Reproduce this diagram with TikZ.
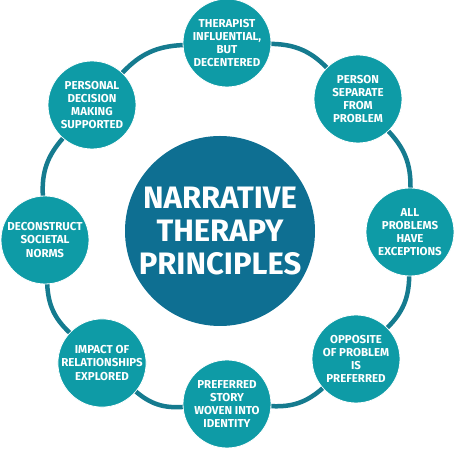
\documentclass[tikz,border=0pt]{standalone}
\usepackage{fontspec}
\setmainfont{Fira Sans}
\definecolor{teal1}{HTML}{0E9BA6}
\definecolor{core}{HTML}{0E6F92}
\definecolor{ringc}{HTML}{157B8F}
\begin{document}
\begin{tikzpicture}[x=1pt,y=1pt,
  petal/.style={circle,fill=teal1,draw=white,line width=0.8pt,minimum size=88pt,inner sep=0pt,
    align=center,text=white,font=\fontsize{11.5}{13.2}\selectfont\bfseries},
  hub/.style={circle,fill=core,minimum size=190pt,inner sep=0pt,align=center,text=white,
    font=\fontsize{31}{33}\selectfont\bfseries},
  ring/.style={draw=ringc,line width=4.5pt}]
\useasboundingbox (0,0) rectangle (455,449);
\node[hub] (C) at (220,218) {NARRATIVE\\THERAPY\\PRINCIPLES};
\node[petal] (T) at (227,406) {THERAPIST\\INFLUENTIAL,\\BUT\\DECENTERED};
\node[petal] (P) at (358,350) {PERSON\\SEPARATE\\FROM\\PROBLEM};
\node[petal] (A) at (410,217) {ALL\\PROBLEMS\\HAVE\\EXCEPTIONS};
\node[petal] (O) at (356,90) {OPPOSITE\\OF PROBLEM\\IS\\PREFERRED};
\node[petal] (R) at (227,45) {PREFERRED\\STORY\\WOVEN INTO\\IDENTITY};
\node[petal] (I) at (102,86) {IMPACT OF\\RELATIONSHIPS\\EXPLORED};
\node[petal] (D) at (45,209) {DECONSTRUCT\\SOCIETAL\\NORMS};
\node[petal] (M) at (92,344) {PERSONAL\\DECISION\\MAKING\\SUPPORTED};
\draw[ring] (T) to[bend left=22] (P);
\draw[ring] (P) to[bend left=22] (A);
\draw[ring] (A) to[bend left=22] (O);
\draw[ring] (O) to[bend left=22] (R);
\draw[ring] (R) to[bend left=22] (I);
\draw[ring] (I) to[bend left=22] (D);
\draw[ring] (D) to[bend left=22] (M);
\draw[ring] (M) to[bend left=22] (T);
\end{tikzpicture}
\end{document}
